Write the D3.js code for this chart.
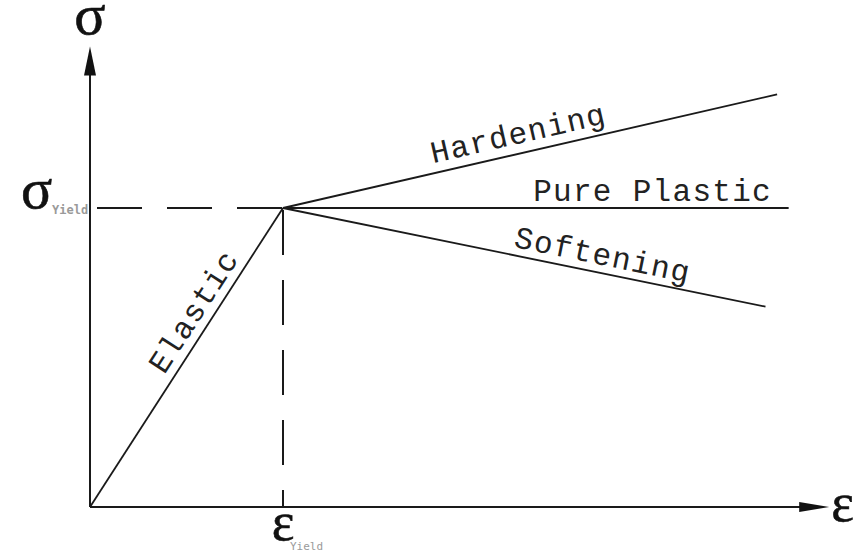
<!DOCTYPE html>
<html>
<head>
<meta charset="utf-8">
<script src="https://cdn.jsdelivr.net/npm/d3@7"></script>
<style>
  body { margin: 0; background: #fff; }
  .lbl { font-family: "Liberation Mono", "DejaVu Sans Mono", monospace; font-size: 31px; fill: #222; letter-spacing: 1.3px; }
  .greek { font-family: "Liberation Serif", "DejaVu Serif", serif; fill: #111; stroke: #111; stroke-width: 0.6px; }
  .sub { font-family: "DejaVu Sans Mono", monospace; font-size: 11px; fill: #9a9a9a; }
</style>
</head>
<body>
<script>
// normalised units: yield point at (1, 1)
var yieldStrain = 1, yieldStress = 1;
var axisMax = { strain: 3.83, stress: 1.54 };

var branches = ["Hardening", "Pure Plastic", "Softening"];
var branchEndStrain = [3.56, 3.62, 3.50];
var branchEndStress = [1.38, 1.00, 0.67];

var width = 861, height = 553;

var x = d3.scaleLinear().domain([0, 1]).range([90, 283]);
var y = d3.scaleLinear().domain([0, 1]).range([507, 208]);

var svg = d3.select("body").append("svg")
  .attr("width", width)
  .attr("height", height);

var line = d3.line()
  .x(function(d) { return x(d[0]); })
  .y(function(d) { return y(d[1]); });

// axes
var x0 = x(0), y0 = y(0);
var xEnd = x(axisMax.strain), yEnd = y(axisMax.stress);

svg.append("line")
  .attr("x1", x0).attr("y1", y0)
  .attr("x2", xEnd - 26).attr("y2", y0)
  .attr("stroke", "#1a1a1a").attr("stroke-width", 2);
svg.append("line")
  .attr("x1", x0).attr("y1", y0)
  .attr("x2", x0).attr("y2", yEnd + 26)
  .attr("stroke", "#1a1a1a").attr("stroke-width", 2);

svg.append("path")
  .attr("d", "M" + xEnd + "," + y0 + "L" + (xEnd - 30) + "," + (y0 - 5) + "L" + (xEnd - 30) + "," + (y0 + 5) + "Z")
  .attr("fill", "#111");
svg.append("path")
  .attr("d", "M" + x0 + "," + yEnd + "L" + (x0 - 6) + "," + (yEnd + 29) + "L" + (x0 + 6) + "," + (yEnd + 29) + "Z")
  .attr("fill", "#111");

// yield guides (dashed)
svg.append("line")
  .attr("x1", x0 + 7).attr("y1", y(yieldStress))
  .attr("x2", x(yieldStrain)).attr("y2", y(yieldStress))
  .attr("stroke", "#1a1a1a").attr("stroke-width", 2)
  .attr("stroke-dasharray", "45,25");
svg.append("line")
  .attr("x1", x(yieldStrain)).attr("y1", y(yieldStress) + 2)
  .attr("x2", x(yieldStrain)).attr("y2", y0)
  .attr("stroke", "#1a1a1a").attr("stroke-width", 2)
  .attr("stroke-dasharray", "45,25");

// elastic part
var elastic = [[0, 0], [yieldStrain, yieldStress]];
svg.append("path")
  .attr("d", line(elastic))
  .attr("fill", "none").attr("stroke", "#1a1a1a").attr("stroke-width", 1.8);

// plastic branches
branches.forEach(function(name, i) {
  svg.append("path")
    .attr("d", line([[yieldStrain, yieldStress], [branchEndStrain[i], branchEndStress[i]]]))
    .attr("fill", "none").attr("stroke", "#1a1a1a").attr("stroke-width", 1.8);
});

// label placed along a segment: t = fraction, off = px above the line
function labelAlong(text, p0, p1, t, off, anchor) {
  var ax = x(p0[0]), ay = y(p0[1]), bx = x(p1[0]), by = y(p1[1]);
  var ang = Math.atan2(by - ay, bx - ax);
  var px = ax + (bx - ax) * t + Math.sin(ang) * off;
  var py = ay + (by - ay) * t - Math.cos(ang) * off;
  svg.append("text")
    .attr("class", "lbl")
    .attr("text-anchor", anchor)
    .attr("transform", "translate(" + px + "," + py + ") rotate(" + (ang * 180 / Math.PI) + ")")
    .text(text);
}

labelAlong("Elastic", elastic[0], elastic[1], 0.62, 9, "middle");
var Y = [yieldStrain, yieldStress];
labelAlong(branches[0], Y, [branchEndStrain[0], branchEndStress[0]], 0.485, 10, "middle");
svg.append("text")
  .attr("class", "lbl")
  .attr("text-anchor", "end")
  .attr("x", 772).attr("y", y(yieldStress) - 7)
  .text(branches[1]);
labelAlong(branches[2], Y, [branchEndStrain[2], branchEndStress[2]], 0.655, 8, "middle");

// axis symbols
svg.append("text").attr("class", "greek")
  .attr("x", x0).attr("y", 34).attr("text-anchor", "middle")
  .style("font-size", "58px").text("σ");
svg.append("text").attr("class", "greek")
  .attr("x", 21).attr("y", y(yieldStress))
  .style("font-size", "58px").text("σ");
svg.append("text").attr("class", "sub")
  .attr("x", 52).attr("y", y(yieldStress) + 6)
  .style("font-size", "12px").style("font-weight", "bold").text("Yield");

svg.append("text").attr("class", "greek")
  .attr("x", x(yieldStrain)).attr("y", 540).attr("text-anchor", "middle")
  .style("font-size", "54px").text("ε");
svg.append("text").attr("class", "sub")
  .attr("x", 290).attr("y", 550).text("Yield");

svg.append("text").attr("class", "greek")
  .attr("x", xEnd + 2).attr("y", 521)
  .style("font-size", "54px").text("ε");
</script>
</body>
</html>
